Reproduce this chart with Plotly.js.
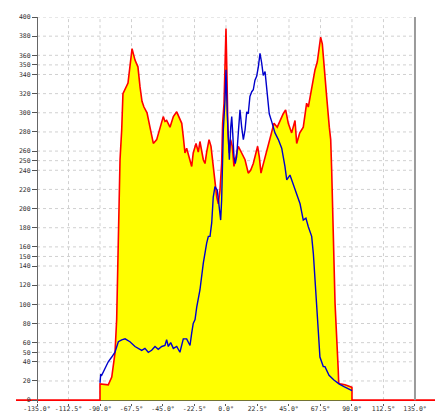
<!DOCTYPE html>
<html>
<head>
<meta charset="utf-8">
<script src="https://cdn.plot.ly/plotly-3.0.1.min.js"></script>
<style>html,body{margin:0;padding:0;background:#fff;}#chart{width:435px;height:415px;}</style>
</head>
<body>
<div id="chart"></div>
<script>
// Red trace (filled yellow) — angle in degrees
const redX = [-150, -90, -90, -84.1, -81.6, -79.3, -78.1, -77.1, -76.4, -75.7, -74.5, -73.6, -70, -67.1, -65, -62.9, -61.4, -60, -58.6, -56.4, -54.3, -51.9, -49.5, -47.1, -44.8, -43.6, -42.4, -40, -37.6, -35.2, -32.9, -31.6, -30.5, -29.3, -28.1, -26.4, -24.5, -23.4, -21.4, -19.8, -18.6, -16.2, -15, -13.8, -12.1, -10.7, -9.1, -7.9, -6.6, -5.5, -4.3, -3.1, -2.4, -1.4, -0.7, 0, 0.7, 1.4, 2.4, 3.3, 4.5, 5.7, 7.1, 8.8, 11.2, 13.6, 15.9, 17.6, 19.5, 21.4, 22.6, 23.8, 25, 26.2, 27.9, 30.2, 32.6, 34.3, 36.6, 38.6, 40.9, 42.6, 44.5, 46.9, 49.3, 50.5, 52.7, 55.2, 57.6, 58.8, 61.2, 63.6, 65.2, 66.4, 67.6, 68.8, 70, 71.9, 73.8, 74.8, 75.5, 76.6, 77.9, 80.2, 80.5, 81.4, 85, 89.8, 90, 90, 150];
const redY = [0, 0, 17, 16, 24, 49, 84, 143, 195, 251, 282, 320, 331, 367, 355, 348, 327, 312, 306, 300, 285, 268, 272, 285, 296, 291, 292, 285, 296, 301, 293, 289, 275, 258, 263, 254, 244, 258, 268, 259, 270, 251, 247, 259, 272, 265, 244, 223, 212, 205, 219, 247, 289, 310, 340, 388, 338, 279, 258, 272, 265, 244, 254, 265, 258, 251, 237, 240, 247, 259, 265, 254, 237, 244, 254, 265, 282, 289, 285, 292, 299, 303, 289, 279, 292, 268, 279, 285, 310, 306, 327, 345, 353, 366, 379, 372, 348, 317, 285, 272, 240, 171, 101, 31, 18, 17, 16, 13.5, 13, 0, 0];

// Blue trace
const blueX = [-90, -89.5, -88.8, -86.4, -84.1, -81.6, -79.3, -76.9, -74.5, -72.1, -70.9, -68.6, -65, -62.6, -60.2, -57.9, -55.5, -53.1, -50.7, -48.4, -45.9, -43.6, -42.4, -41.2, -39.5, -37.6, -35.2, -32.9, -31.6, -30.5, -28.1, -26.9, -25.7, -24.5, -23.4, -22.1, -20.9, -18.6, -16.2, -13.8, -12.6, -11.4, -10.2, -9.1, -7.9, -6.2, -4.8, -3.8, -3.1, -1.9, -0.7, 0, 0.9, 1.6, 2.4, 3.4, 4.1, 4.8, 5.7, 6.6, 7.6, 8.8, 10, 11.2, 12.4, 13.6, 14.8, 15.9, 17.1, 18.4, 19.5, 20.7, 21.9, 23.1, 24.3, 25.5, 26.6, 27.9, 28.6, 29.5, 30.9, 32.6, 35, 37.4, 39.8, 42.1, 43.4, 45.7, 48.1, 50.5, 52.9, 55.2, 57.1, 58.8, 61.2, 62.4, 63.6, 64.8, 65.9, 67.1, 69.5, 70.7, 73.6, 77.1, 80.7, 84.3, 87.9, 90];
const blueY = [18, 27, 26, 33, 40, 45, 50, 61, 63, 64, 63, 61, 56, 54, 52, 54, 50, 52, 56, 53, 56, 57, 63, 56, 60, 54, 56, 50, 59, 64, 64, 61, 57, 70, 80, 84, 97, 115, 143, 164, 171, 171, 185, 212, 223, 219, 202, 188, 209, 282, 313, 345, 299, 272, 251, 285, 296, 279, 254, 247, 254, 279, 303, 285, 272, 282, 301, 299, 317, 322, 324, 334, 338, 348, 362, 352, 339, 343, 334, 320, 299, 291, 279, 272, 263, 244, 230, 235, 225, 216, 205, 188, 190, 181, 171, 153, 129, 101, 73, 45, 35, 35, 26, 21, 17, 14, 11, 10];

// Ticks
const xTickVals = [-135, -112.5, -90, -67.5, -45, -22.5, 0, 22.5, 45, 67.5, 90, 112.5, 135];
const xTickText = ["-135.0°", "-112.5°", "-90.0°", "-67.5°", "-45.0°", "-22.5°", "0.0°", "22.5°", "45.0°", "67.5°", "90.0°", "112.5°", "135.0°"];
const yTickVals = [0, 20, 40, 50, 60, 80, 100, 120, 140, 150, 160, 180, 200, 220, 240, 250, 260, 280, 300, 320, 340, 350, 360, 380, 400];
const yTickText = yTickVals.map(String);

const gridColor = '#d0d0d0';
const shapes = [];
yTickVals.forEach(v => { if (v > 0) shapes.push({type:'line', layer:'below', xref:'x', yref:'y', x0:-135, x1:135, y0:v, y1:v, line:{color:gridColor, width:1, dash:'dot'}}); });
xTickVals.forEach(v => { if (v > -135 && v < 135) shapes.push({type:'line', layer:'below', xref:'x', yref:'y', x0:v, x1:v, y0:0, y1:400, line:{color:gridColor, width:1, dash:'dot'}}); });
shapes.push({type:'line', layer:'above', xref:'x', yref:'y', x0:135, x1:135, y0:0, y1:400, line:{color:'#9a9a9a', width:2}});

const traces = [
  {x: redX, y: redY, type:'scatter', mode:'lines', fill:'tozeroy', fillcolor:'#ffff00', line:{color:'#ff0000', width:1.6}, hoverinfo:'skip'},
  {x: blueX, y: blueY, type:'scatter', mode:'lines', line:{color:'#0000cc', width:1.4}, hoverinfo:'skip'}
];

const tickFont = {family:'DejaVu Sans Mono, monospace', size:6.5, color:'#333'};
const layout = {
  width:435, height:415,
  margin:{l:16, r:0, t:17, b:12, pad:0},
  paper_bgcolor:'#fff', plot_bgcolor:'rgba(0,0,0,0)',
  showlegend:false,
  xaxis:{range:[-150,149.3], tickvals:xTickVals, ticktext:xTickText, tickfont:tickFont, tickangle:0, ticklabelstandoff:-3, showgrid:false, zeroline:false, showline:false, ticks:'outside', ticklen:2, tickcolor:'#555', fixedrange:true},
  yaxis:{range:[-3,400], tickvals:yTickVals, ticktext:yTickText, tickfont:tickFont, showgrid:false, zeroline:true, zerolinecolor:'#444', showline:true, linecolor:'#666', linewidth:1.5, ticks:'outside', ticklen:5, tickcolor:'#555', anchor:'free', position:0.0501, side:'left', fixedrange:true},
  shapes: shapes
};
Plotly.newPlot('chart', traces, layout, {staticPlot:true, displayModeBar:false});
</script>
</body>
</html>
